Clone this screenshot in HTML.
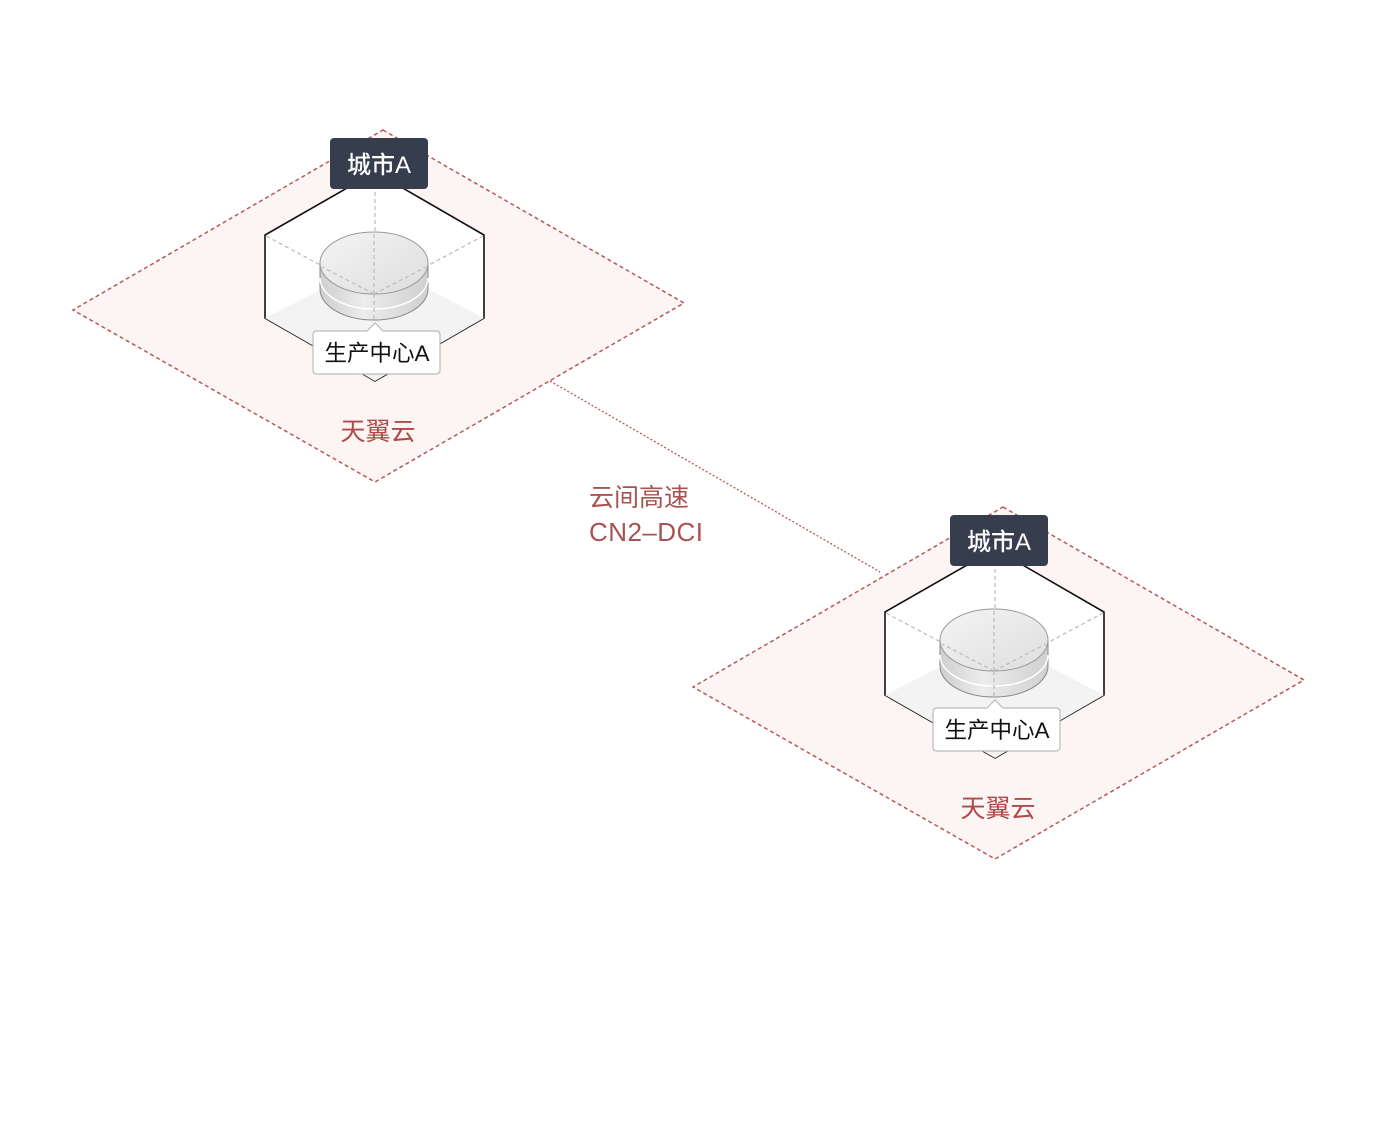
<!DOCTYPE html>
<html><head><meta charset="utf-8"><style>
html,body{margin:0;padding:0;background:#fff;}
svg{display:block;}
text{font-family:"Liberation Sans","Noto Sans CJK SC",sans-serif;}
</style></head><body>
<svg width="1390" height="1125" viewBox="0 0 1390 1125" xmlns="http://www.w3.org/2000/svg">
<defs>
<linearGradient id="cylTop" x1="0" y1="0" x2="1" y2="1">
<stop offset="0" stop-color="#f4f4f4"/><stop offset="1" stop-color="#dedede"/></linearGradient>
<linearGradient id="cylSide" x1="0" y1="0" x2="1" y2="0">
<stop offset="0" stop-color="#cfcfcf"/><stop offset="0.4" stop-color="#ececec"/><stop offset="1" stop-color="#d0d0d0"/></linearGradient>
<g id="unit">
<polygon points="383,130 684,303 375,482 73,310" fill="#fdf5f4" stroke="#b45a5a" stroke-width="1.5" stroke-dasharray="4,3"/>
<polygon points="375,172 484,235 484,318 375,381 265,318 265,235" fill="#fff" stroke="#111" stroke-width="1.6"/>
<polygon points="265,318 320,290 430,290 484,318 375,381" fill="#f3f3f3"/>
<g stroke="#bbb" stroke-width="1.2" stroke-dasharray="4,3" fill="none">
<line x1="375" y1="294" x2="375" y2="175"/>
<line x1="375" y1="294" x2="266" y2="236"/>
<line x1="375" y1="294" x2="483" y2="236"/>
</g>
<path d="M320,263 L320,289 A54,31 0 0 0 428,289 L428,263 Z" fill="url(#cylSide)" stroke="#888" stroke-width="1"/>
<path d="M320,278 A54,31 0 0 0 428,278" fill="none" stroke="#fff" stroke-width="1.5"/>
<ellipse cx="374" cy="263" rx="54" ry="31" fill="url(#cylTop)" stroke="#999" stroke-width="1"/>
<g stroke="#bbb" stroke-width="1.2" stroke-dasharray="4,3" fill="none">
<line x1="374" y1="294" x2="374" y2="232"/>
<line x1="374" y1="294" x2="322" y2="267"/>
<line x1="374" y1="294" x2="426" y2="267"/>
<line x1="374" y1="294" x2="374" y2="322"/>
</g>
<rect x="330" y="138" width="98" height="51" rx="4" fill="#363d4c"/>
<text x="379" y="173" font-size="24" fill="#fff" text-anchor="middle" font-weight="500">城市A</text>
<path d="M313,335 Q313,331 317,331 L367,331 L375,323 L383,331 L436,331 Q440,331 440,335 L440,370 Q440,374 436,374 L317,374 Q313,374 313,370 Z" fill="#fff" stroke="#bbb" stroke-width="1.2"/>
<text x="377" y="361" font-size="22.5" fill="#111" text-anchor="middle">生产中心A</text>
<text x="378" y="440" font-size="25" fill="#b04a4a" text-anchor="middle">天翼云</text>
</g>
</defs>
<use href="#unit"/>
<use href="#unit" transform="translate(620,377)"/>
<line x1="550" y1="381" x2="880" y2="572" stroke="#b45a5a" stroke-width="1.3" stroke-dasharray="2,2"/>
<text x="589" y="506" font-size="25" fill="#a85252">云间高速</text>
<text x="589" y="541" font-size="26" fill="#a85252" textLength="114">CN2–DCI</text>
</svg>
</body></html>
